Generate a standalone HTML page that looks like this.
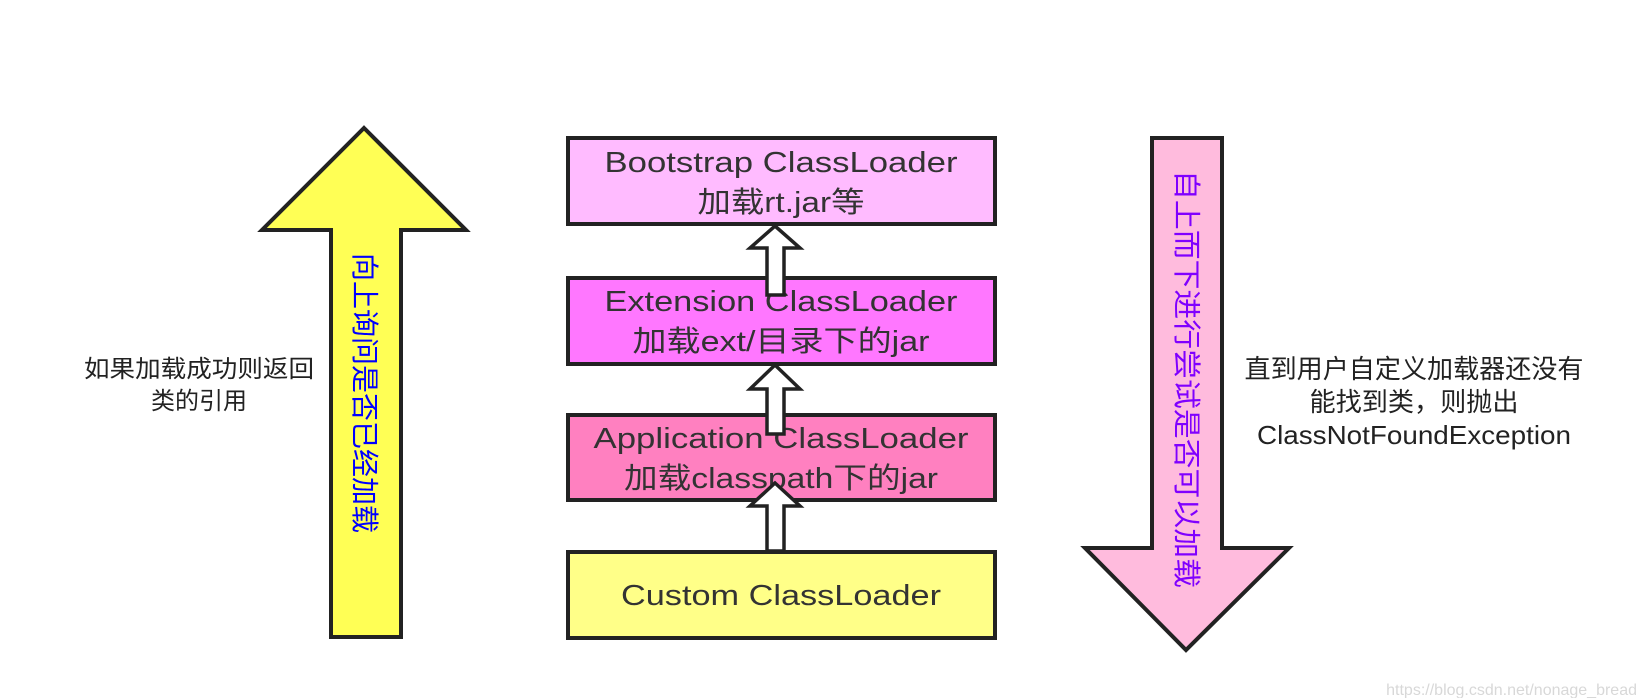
<!DOCTYPE html>
<html><head><meta charset="utf-8"><style>
html,body{margin:0;padding:0;background:#fff;}
svg{display:block;}
text{font-family:"Liberation Sans","Noto Sans CJK SC",sans-serif;}
</style></head><body>
<svg width="1640" height="698" viewBox="0 0 1640 698" xmlns="http://www.w3.org/2000/svg">
<rect width="1640" height="698" fill="#fff"/>
<!-- yellow up arrow -->
<polygon points="364,128 466,230 401,230 401,637 331,637 331,230 262,230" fill="#ffff55" stroke="#222" stroke-width="4" stroke-linejoin="miter"/>
<text transform="translate(365,393) rotate(90)" x="0" y="10" font-size="28" fill="#0000ff" text-anchor="middle" textLength="280" lengthAdjust="spacingAndGlyphs">向上询问是否已经加载</text>
<text font-size="24" fill="#222" text-anchor="middle"><tspan x="199" y="377" textLength="230" lengthAdjust="spacingAndGlyphs">如果加载成功则返回</tspan><tspan x="199" y="409">类的引用</tspan></text>
<!-- boxes -->
<rect x="568" y="138" width="427" height="86" fill="#ffbbff" stroke="#222" stroke-width="4"/>
<rect x="568" y="278" width="427" height="86" fill="#ff77ff" stroke="#222" stroke-width="4"/>
<rect x="568" y="415" width="427" height="85" fill="#ff80c0" stroke="#222" stroke-width="4"/>
<rect x="568" y="552" width="427" height="86" fill="#ffff88" stroke="#222" stroke-width="4"/>
<g font-size="29" fill="#333" text-anchor="middle" lengthAdjust="spacingAndGlyphs">
<text x="781" y="172" textLength="353" lengthAdjust="spacingAndGlyphs">Bootstrap ClassLoader</text>
<text x="781" y="212" textLength="167" lengthAdjust="spacingAndGlyphs">加载rt.jar等</text>
<text x="781" y="311" textLength="353" lengthAdjust="spacingAndGlyphs">Extension ClassLoader</text>
<text x="781" y="351" textLength="297" lengthAdjust="spacingAndGlyphs">加载ext/目录下的jar</text>
<text x="781" y="448" textLength="375" lengthAdjust="spacingAndGlyphs">Application ClassLoader</text>
<text x="781" y="488" textLength="314" lengthAdjust="spacingAndGlyphs">加载classpath下的jar</text>
<text x="781" y="605" textLength="320" lengthAdjust="spacingAndGlyphs">Custom ClassLoader</text>
</g>
<!-- hollow arrows -->
<g fill="#fff" stroke="#222" stroke-width="3.5" stroke-linejoin="miter">
<polygon points="775,226 800,248 784,248 784,295 767,295 767,248 750,248"/>
<polygon points="775,365 800,389 784,389 784,434 767,434 767,389 750,389"/>
<polygon points="775,483 800,506 784,506 784,551 767,551 767,506 750,506"/>
</g>
<!-- pink down arrow -->
<polygon points="1152,138 1222,138 1222,548 1289,548 1186,650 1085,548 1152,548" fill="#ffbbdd" stroke="#222" stroke-width="4"/>
<text transform="translate(1187,379) rotate(90)" x="0" y="10" font-size="28" fill="#8000ff" text-anchor="middle" textLength="418" lengthAdjust="spacingAndGlyphs">自上而下进行尝试是否可以加载</text>
<text font-size="26" fill="#222" text-anchor="middle"><tspan x="1414" y="378" textLength="339" lengthAdjust="spacingAndGlyphs">直到用户自定义加载器还没有</tspan><tspan x="1414" y="411" textLength="209" lengthAdjust="spacingAndGlyphs">能找到类，则抛出</tspan><tspan x="1414" y="444" textLength="314" lengthAdjust="spacingAndGlyphs">ClassNotFoundException</tspan></text>
<text x="1637" y="695" font-size="16" fill="#d8d8d8" text-anchor="end">https://blog.csdn.net/nonage_bread</text>
</svg>
</body></html>
